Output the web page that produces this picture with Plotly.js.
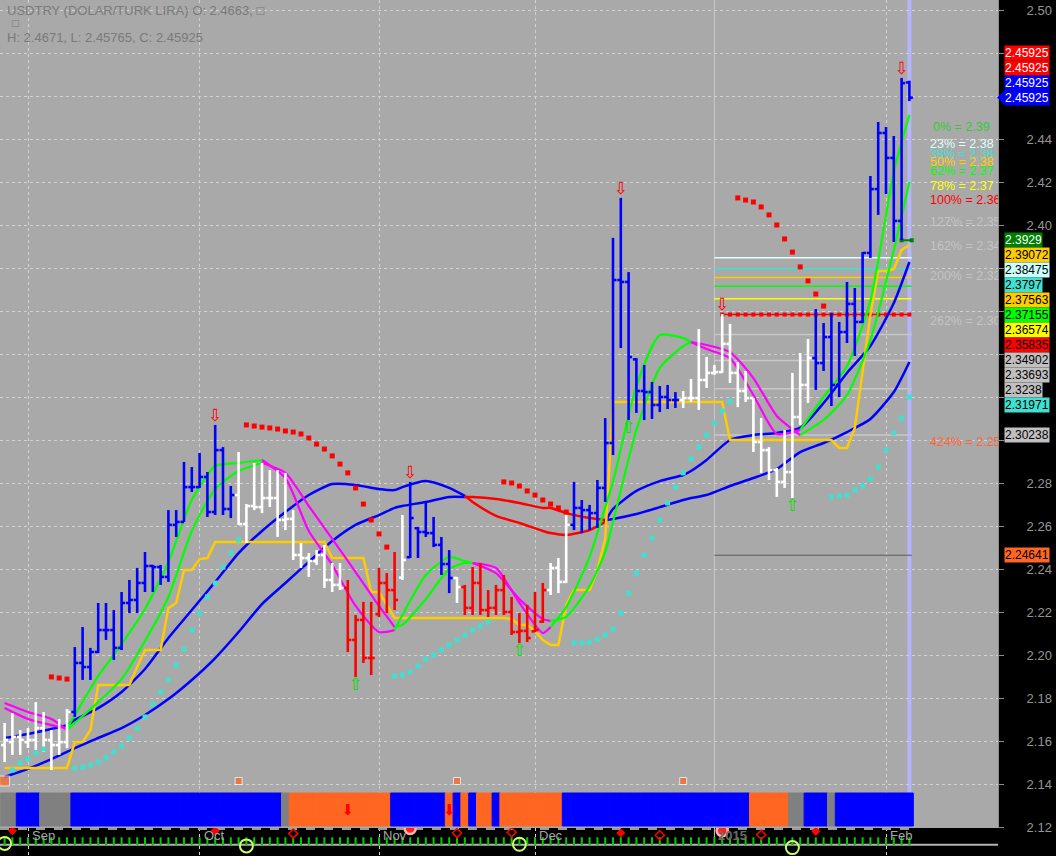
<!DOCTYPE html>
<html><head><meta charset="utf-8">
<script src="https://cdn.plot.ly/plotly-3.0.1.min.js"></script>
<style>html,body{margin:0;padding:0;background:#000;overflow:hidden}#chart{width:1056px;height:856px}</style>
</head><body><div id="chart"></div>
<script>
// ---------------- DATA ----------------
const open = [2.1581,2.1595,2.1619,2.1595,2.1605,2.1660,2.1605,2.1581,2.1595,2.1735,
2.1963,2.1944,2.2014,2.2116,2.2116,2.2033,2.2242,2.2256,2.2335,2.2414,
2.2409,2.2363,2.2605,2.2619,2.2781,2.2781,2.2828,2.2665,2.2953,2.2679,
2.2744,2.2609,2.2693,2.2688,2.2730,2.2730,2.2628,2.2633,2.2465,2.2451,
2.2437,2.2465,2.2349,2.2326,2.2312,2.2070,2.2163,2.1986,2.2190,2.2335,
2.2302,2.2360,2.2455,2.2590,2.2572,2.2567,2.2512,2.2423,2.2358,2.2316,
2.2219,2.2335,2.2209,2.2219,2.2302,2.2200,2.2107,2.2112,2.2110,2.2155,
2.2302,2.2405,2.2340,2.2605,2.2684,2.2674,2.2660,2.2777,2.2986,2.3744,
2.3735,2.3375,2.3228,2.3223,2.3163,2.3200,2.3186,2.3186,2.3195,2.3195,
2.3279,2.3312,2.3316,2.3447,2.3312,2.3228,2.3195,2.2991,2.2953,2.2860,
2.2805,2.2851,2.3107,2.3256,2.3381,2.3358,2.3479,2.3256,2.3502,2.3633,
2.3549,2.3870,2.4167,2.4428,2.4312,2.4019,2.4663];
const high = [2.1684,2.1730,2.1651,2.1660,2.1781,2.1735,2.1651,2.1702,2.1749,2.2037,
2.2130,2.2033,2.2242,2.2242,2.2209,2.2293,2.2349,2.2405,2.2479,2.2419,
2.2419,2.2674,2.2674,2.2898,2.2874,2.2940,2.2851,2.3070,2.2967,2.2786,
2.2944,2.2702,2.2893,2.2893,2.2860,2.2860,2.2847,2.2674,2.2521,2.2474,
2.2488,2.2512,2.2428,2.2428,2.2349,2.2186,2.2247,2.2247,2.2405,2.2381,
2.2479,2.2651,2.2805,2.2595,2.2712,2.2642,2.2549,2.2488,2.2363,2.2326,
2.2409,2.2428,2.2302,2.2326,2.2372,2.2270,2.2195,2.2233,2.2293,2.2335,
2.2428,2.2451,2.2651,2.2805,2.2721,2.2698,2.2814,2.3102,2.3940,2.4126,
2.3781,2.3381,2.3349,2.3270,2.3251,2.3256,2.3223,2.3228,2.3284,2.3516,
2.3386,2.3349,2.3586,2.3540,2.3363,2.3321,2.3195,2.3102,2.2967,2.2870,
2.3047,2.3312,2.3405,2.3470,2.3609,2.3544,2.3591,2.3549,2.3735,2.3707,
2.3874,2.4228,2.4479,2.4456,2.4414,2.4684,2.4671];
const low = [2.1502,2.1535,2.1535,2.1567,2.1558,2.1549,2.1465,2.1535,2.1567,2.1712,
2.1884,2.1884,2.2009,2.2070,2.1977,2.2023,2.2195,2.2195,2.2293,2.2293,
2.2326,2.2340,2.2549,2.2619,2.2758,2.2777,2.2642,2.2651,2.2651,2.2637,
2.2605,2.2521,2.2674,2.2660,2.2688,2.2549,2.2581,2.2442,2.2405,2.2363,
2.2419,2.2312,2.2293,2.2302,2.2014,2.1898,2.1963,2.1907,2.2177,2.2195,
2.2209,2.2349,2.2451,2.2451,2.2549,2.2502,2.2372,2.2288,2.2242,2.2186,
2.2186,2.2186,2.2177,2.2186,2.2186,2.2093,2.2056,2.2060,2.2107,2.2149,
2.2279,2.2288,2.2335,2.2581,2.2567,2.2581,2.2591,2.2712,2.2930,2.3428,
2.3093,2.3126,2.3093,2.3098,2.3130,2.3144,2.3149,2.3149,2.3177,2.3140,
2.3242,2.3302,2.3312,2.3265,2.3153,2.3177,2.2944,2.2847,2.2814,2.2735,
2.2777,2.2730,2.3070,2.3172,2.3233,2.3321,2.3158,2.3200,2.3451,2.3391,
2.3544,2.3847,2.4047,2.4144,2.3921,2.3930,2.45765];
const close = [2.1605,2.1619,2.1605,2.1605,2.1660,2.1605,2.1581,2.1595,2.1735,2.1963,
2.1944,2.2014,2.2116,2.2116,2.2033,2.2242,2.2256,2.2335,2.2414,2.2409,
2.2363,2.2605,2.2619,2.2781,2.2781,2.2828,2.2665,2.2953,2.2679,2.2744,
2.2609,2.2693,2.2688,2.2730,2.2730,2.2628,2.2633,2.2465,2.2451,2.2437,
2.2465,2.2349,2.2326,2.2312,2.2070,2.2163,2.1986,2.1986,2.2335,2.2302,
2.2256,2.2442,2.2637,2.2572,2.2567,2.2512,2.2423,2.2358,2.2316,2.2219,
2.2335,2.2209,2.2219,2.2302,2.2200,2.2107,2.2112,2.2079,2.2116,2.2302,
2.2405,2.2340,2.2605,2.2684,2.2674,2.2660,2.2777,2.2986,2.3744,2.3735,
2.3386,2.3228,2.3223,2.3163,2.3200,2.3186,2.3186,2.3195,2.3195,2.3279,
2.3312,2.3316,2.3447,2.3312,2.3228,2.3195,2.2991,2.2953,2.2860,2.2805,
2.2851,2.3107,2.3256,2.3381,2.3358,2.3479,2.3256,2.3502,2.3633,2.3549,
2.3870,2.4167,2.4428,2.4312,2.4019,2.4660,2.45925];

// bar colour regime (run-length: code, number of bars)
const trendRuns = [['W',9],['B',21],['W',14],['R',7],['W',1],['B',6],['W',1],['R',11],['W',3],['B',14],['W',17],['B',13]];
// bottom band regime (run-length)
const bandRuns = [['G',2],['B',3],['G',4],['B',27],['G',1],['O',13],['B',7],['O',1],['B',1],['O',1],['B',1],['O',2],['B',1],['O',8],['B',24],['O',5],['G',2],['B',3],['G',1],['B',10]];

// month ticks (bar index of first trading day)
const monthTickIdx = [3, 25, 48, 68, 91, 113];
const monthTickText = ['Sep', 'Oct', 'Nov', 'Dec', '2015', 'Feb'];

// moving averages sampled at these bar indices
const maIdx = [0,3,6,8,9,12,15,18,21,24,27,30,33,36,39,42,45,48,50,51,54,57,59,60,63,66,69,70,72,75,77,78,81,84,87,88,90,93,96,99,102,105,108,111,114,116];
const maBlueFast = [2.1614,2.1633,2.1656,2.1674,2.1698,2.1753,2.1828,2.1935,2.2079,2.2209,
2.2340,2.2474,2.2577,2.2665,2.2744,2.2795,2.2791,2.2772,2.2767,2.2781,
2.2809,2.2777,2.2740,2.2712,2.2647,2.2614,2.2577,2.2567,2.2558,2.2581,
2.2619,2.2679,2.2763,2.2809,2.2837,2.2856,2.2907,2.3000,2.3023,2.3033,
2.3056,2.3172,2.3312,2.3437,2.3637,2.3828];
const maBlueSlow = [2.1433,2.1470,2.1516,2.1549,2.1567,2.1614,2.1660,2.1721,2.1795,2.1884,
2.1986,2.2107,2.2237,2.2335,2.2433,2.2530,2.2605,2.2651,2.2684,2.2693,
2.2712,2.2735,2.2735,2.2735,2.2726,2.2707,2.2684,2.2684,2.2660,2.2637,
2.2628,2.2633,2.2656,2.2688,2.2721,2.2730,2.2744,2.2786,2.2823,2.2865,
2.2944,2.2986,2.3037,2.3098,2.3223,2.3363];
const maGreenFast = [2.1753,2.1702,2.1674,2.1660,2.1721,2.1902,2.2051,2.2214,2.2433,2.2721,
2.2879,2.2893,2.2907,2.2823,2.2577,2.2419,2.2228,2.2107,2.2116,2.2186,
2.2372,2.2456,2.2437,2.2428,2.2405,2.2242,2.2102,2.2130,2.2223,2.2456,
2.2688,2.2805,2.3251,2.3488,2.3474,2.3456,2.3423,2.3381,2.3209,2.3028,
2.3047,2.3200,2.3344,2.3647,2.4247,2.4512];
const maGreenSlow = [2.1777,2.1735,2.1702,2.1651,2.1684,2.1781,2.1888,2.2065,2.2270,2.2577,
2.2772,2.2856,2.2893,2.2847,2.2693,2.2540,2.2386,2.2228,2.2130,2.2140,
2.2260,2.2400,2.2428,2.2428,2.2381,2.2260,2.2167,2.2158,2.2177,2.2321,
2.2479,2.2619,2.3047,2.3335,2.3437,2.3456,2.3442,2.3409,2.3288,2.3112,
2.3023,2.3093,2.3209,2.3465,2.3884,2.4200];
// bar-index ranges where the MA pairs change colour
const blueDownRanges = [[59, 77]];
const greenDownRanges = [[0, 8], [33, 50], [60, 70], [88, 102]];

// stepped gold band (one value per bar)
const goldLine = [2.1474,2.1474,2.1474,2.1474,2.1474,2.1474,2.1474,2.1474,2.1474,
2.1595,2.1595,2.1651,2.1860,2.1860,2.1860,2.1860,2.1860,2.1944,2.2023,2.2023,2.2023,2.2219,2.2242,2.2395,2.2395,2.2446,2.2451,
2.2526,2.2526,2.2526,2.2526,2.2526,2.2526,2.2526,2.2526,2.2526,2.2526,2.2526,2.2526,2.2526,2.2526,2.2526,
2.2451,2.2451,2.2451,2.2451,2.2451,
2.2293,2.2293,2.2233,
2.2172,2.2172,2.2172,2.2172,2.2172,2.2172,2.2172,2.2172,2.2172,2.2172,2.2172,2.2172,2.2172,2.2172,2.2172,
2.2167,2.2140,2.2140,2.2112,2.2070,2.2047,2.2047,2.2233,2.2302,2.2302,2.2302,2.2395,2.2540,2.3177,
2.3177,2.3177,2.3177,2.3177,2.3177,2.3177,2.3177,2.3177,2.3177,2.3177,2.3177,2.3177,2.3177,2.3177,
2.3000,2.3000,2.3000,2.3000,2.3000,2.3000,2.3000,2.3000,2.3000,2.3000,2.3000,2.3000,2.3000,2.3000,
2.2963,2.2963,2.3056,2.3326,2.3581,2.3786,2.3786,2.3795,2.3884,2.3907];

// parabolic SAR dots
const sarLowIdx = [1,2,3,4,5,9,10,11,12,13,14,15,16,17,18,19,20,21,22,23,24,25,26,27,28,29,30,
50,51,52,53,54,55,56,57,58,59,60,61,62,
73,74,75,76,77,78,79,80,81,82,83,84,85,86,87,88,89,90,91,92,93,
106,107,108,109,110,111,112,113,114,115,116];
const sarLowVal = [2.1465,2.1498,2.1516,2.1544,2.1563,
2.1474,2.1479,2.1488,2.1502,2.1521,2.1549,2.1577,2.1614,2.1660,2.1712,2.1772,2.1828,2.1884,2.1953,2.2028,2.2116,2.2195,2.2270,2.2335,2.2409,2.2474,2.2535,
2.1902,2.1907,2.1921,2.1949,2.1981,2.2000,2.2023,2.2047,2.2070,2.2093,2.2116,2.2135,2.2153,
2.2056,2.2056,2.2060,2.2074,2.2093,2.2121,2.2195,2.2288,2.2381,2.2465,2.2544,2.2628,2.2707,2.2781,2.2847,2.2912,2.2967,2.3023,2.3079,2.3135,2.3181,
2.2735,2.2740,2.2744,2.2767,2.2786,2.2819,2.2874,2.2953,2.3033,2.3102,2.3200];
const sarHighIdx = [6,7,8,31,32,33,34,35,36,37,38,39,40,41,42,43,44,45,46,47,48,49,
64,65,66,67,68,69,70,71,72,94,95,96,97,98,99,100,101,102,103,104,105];
const sarHighVal = [2.1898,2.1893,2.1888,
2.3070,2.3065,2.3060,2.3056,2.3051,2.3042,2.3037,2.3028,2.3009,2.2981,2.2958,2.2926,2.2888,2.2847,2.2777,2.2702,2.2628,2.2563,2.2502,
2.2805,2.2800,2.2786,2.2763,2.2744,2.2721,2.2702,2.2684,2.2665,
2.4126,2.4116,2.4107,2.4084,2.4047,2.4000,2.3935,2.3874,2.3805,2.3740,2.3679,2.3623];

// signals
const sellIdx = [27, 52, 79, 92, 115];
const buyIdx = [45, 66, 80, 101];
const alertIdx = [0, 30, 58, 87];
const bandArrowIdx = [44, 57];

// fibonacci levels
const fibPct = ['0%','23%','38%','50%','62%','78%','100%','127%','162%','200%','262%','424%'];
const fibLevel = [2.3929,2.38475,2.3797,2.37563,2.37155,2.36574,2.35835,2.34902,2.33693,2.3238,2.30238,2.24641];
const fibStartIdx = 91;

// right-axis value tags
const tagVals = [2.45925,2.45925,2.45925,2.45925,2.3929,2.39072,2.38475,2.3797,2.37563,2.37155,2.36574,2.35835,2.34902,2.33693,2.3238,2.31971,2.30238,2.24641];

// y-axis ticks; labels hidden behind value tags in the reference are left blank
const yTickVals = [2.12,2.14,2.16,2.18,2.20,2.22,2.24,2.26,2.28,2.30,2.32,2.34,2.36,2.38,2.40,2.42,2.44,2.46,2.48,2.50];
const yTickHidden = [2.30,2.32,2.34,2.36,2.38,2.46,2.48];

// header
const headerLine1 = 'USDTRY (DOLAR/TURK LIRA) O: 2.4663, \u25A1';
const headerLine3 = 'H: 2.4671, L: 2.45765, C: 2.45925';

// ---------------- STYLE / LAYOUT ----------------
const FONT = 'Liberation Sans, Arial, sans-serif';
const W = 1056, H = 856, PLOT_W = 998;
function pxToPrice(py){ return 2.50 - (py - 10) / 2150; }
function priceToPx(p){ return 10 + (2.50 - p) * 2150; }
function pxToIdx(px){ return (px - 4.6) / 7.8; }
const Y_TOP = pxToPrice(0), Y_BOT = pxToPrice(828);
const X_MIN = pxToIdx(0), X_MAX = pxToIdx(PLOT_W);
const STRIP = 28 / H;

function expandRuns(runs){ const out = []; runs.forEach(([c, n]) => { for (let k = 0; k < n; k++) out.push(c); }); return out; }
const barIdx = close.map((_, i) => i);
const trend = expandRuns(trendRuns);
const band = expandRuns(bandRuns);
const trendColor = {W: '#ffffff', B: '#0000ff', R: '#ff0000'};
const bandColor = {B: '#0000ff', O: '#ff6622', G: '#808080'};

const traces = [];

// bottom regime band
const BAND_BASE = pxToPrice(826), BAND_TOP = pxToPrice(793);
traces.push({type: 'bar', x: barIdx, y: barIdx.map(() => BAND_TOP - BAND_BASE), base: BAND_BASE, width: 1,
  marker: {color: band.map(c => bandColor[c]), line: {width: 1, color: band.map(c => bandColor[c])}}, hoverinfo: 'skip'});

// fibonacci lines
const fibLineColor = ['#008000','#e0ffff','#40e0d0','#ffcc00','#00ff00','#ffff00','#ff0000','#c8c8c8','#c8c8c8','#c8c8c8','#c8c8c8','#5a5a5a'];
fibLevel.forEach((lv, k) => {
  if (k === 0) {
    traces.push({type: 'scatter', mode: 'lines+markers', x: [115, 116.3], y: [lv, lv],
      line: {color: fibLineColor[k], width: 2}, marker: {symbol: 'square', size: 4, color: fibLineColor[k]}, hoverinfo: 'skip'});
  } else if (k === 6) {
    const xs = barIdx.filter(i => i >= fibStartIdx + 1);
    traces.push({type: 'scatter', mode: 'lines+markers', x: xs, y: xs.map(() => lv),
      line: {color: fibLineColor[k], width: 1.5}, marker: {symbol: 'square', size: 4, color: fibLineColor[k]}, hoverinfo: 'skip'});
  } else {
    traces.push({type: 'scatter', mode: 'lines', x: [fibStartIdx, 116.3], y: [lv, lv],
      line: {color: fibLineColor[k], width: k === 11 ? 1 : 1.5}, hoverinfo: 'skip'});
  }
});

// moving averages with colour changes
function colorRuns(idx, vals, ranges, baseCol, altCol, width){
  const segs = []; let cursor = idx[0]; const end = idx[idx.length - 1];
  ranges.forEach(([a, b]) => { if (a > cursor) segs.push([cursor, a, baseCol]); segs.push([a, b, altCol]); cursor = b; });
  if (cursor < end) segs.push([cursor, end, baseCol]);
  return segs.map(([a, b, col]) => {
    const xs = [], ys = [];
    idx.forEach((v, k) => { if (v >= a && v <= b) { xs.push(v); ys.push(vals[k]); } });
    return {type: 'scatter', mode: 'lines', x: xs, y: ys, line: {color: col, width: width, shape: 'spline', smoothing: 0.6}, hoverinfo: 'skip'};
  });
}
traces.push(...colorRuns(maIdx, maBlueSlow, blueDownRanges, '#0000ff', '#ff0000', 2.5));
traces.push(...colorRuns(maIdx, maBlueFast, blueDownRanges, '#0000ff', '#ff0000', 2.5));
traces.push({type: 'scatter', mode: 'lines', x: barIdx, y: goldLine, line: {color: '#ffcc00', width: 2.5}, hoverinfo: 'skip'});
traces.push(...colorRuns(maIdx, maGreenSlow, greenDownRanges, '#00ff00', '#ff00ff', 2.2));
traces.push(...colorRuns(maIdx, maGreenFast, greenDownRanges, '#00ff00', '#ff00ff', 2.2));

// OHLC bars drawn through the axis scales
['W', 'B', 'R'].forEach(code => {
  const xs = [], ys = [];
  barIdx.forEach(i => {
    if (trend[i] !== code) return;
    xs.push(i, i, null, i - 0.45, i, null, i, i + 0.45, null);
    ys.push(low[i], high[i], null, open[i], open[i], null, close[i], close[i], null);
  });
  traces.push({type: 'scatter', mode: 'lines', x: xs, y: ys, connectgaps: false,
    line: {color: trendColor[code], width: 2.6}, hoverinfo: 'skip'});
});

// SAR dots
traces.push({type: 'scatter', mode: 'markers', x: sarLowIdx, y: sarLowVal,
  marker: {symbol: 'square', size: 5, color: '#40e0d0'}, hoverinfo: 'skip'});
traces.push({type: 'scatter', mode: 'markers', x: sarHighIdx, y: sarHighVal,
  marker: {symbol: 'square', size: 5, color: '#ff0000'}, hoverinfo: 'skip'});

// alert squares above band
traces.push({type: 'scatter', mode: 'markers', x: alertIdx, y: alertIdx.map(() => pxToPrice(781)),
  marker: {symbol: 'square', size: alertIdx.map((v, k) => k === 0 ? 10 : 7), color: '#ff6622'}, hoverinfo: 'skip'});

// band arrows
traces.push({type: 'scatter', mode: 'text', x: bandArrowIdx, y: bandArrowIdx.map(() => pxToPrice(811)),
  text: bandArrowIdx.map(() => '\u2B07'), textposition: 'middle center',
  textfont: {color: '#ff0000', size: 15, family: 'DejaVu Sans'}, hoverinfo: 'skip'});

// sell / buy arrows
traces.push({type: 'scatter', mode: 'text', x: sellIdx, y: sellIdx.map(i => high[i]),
  text: sellIdx.map(() => '\u21E9'), textposition: 'top center', cliponaxis: false,
  textfont: {color: '#ff0000', size: 17, family: 'DejaVu Sans'}, hoverinfo: 'skip'});
traces.push({type: 'scatter', mode: 'text', x: buyIdx, y: buyIdx.map(i => low[i]),
  text: buyIdx.map(() => '\u21E7'), textposition: 'bottom center', cliponaxis: false,
  textfont: {color: '#00e000', size: 17, family: 'DejaVu Sans'}, hoverinfo: 'skip'});

// fibonacci text labels (clipped at plot edge)
const fibTextPx = [128, 145, 155, 163, 172, 187, 201, 223, 247, 277, 322, 443];
const fibTextColor = ['#33cc33','#e0ffff','#40e0d0','#ffcc00','#00ff00','#ffff00','#ff0000','#c4c4c4','#c4c4c4','#c4c4c4','#c4c4c4','#ff6633'];
traces.push({type: 'scatter', mode: 'text', cliponaxis: true,
  x: fibPct.map((p, k) => pxToIdx(k === 0 ? 933 : 930)),
  y: fibTextPx.map(pxToPrice),
  text: fibPct.map((p, k) => p + ' = ' + fibLevel[k].toFixed(2)),
  textposition: 'middle right',
  textfont: {color: fibTextColor, size: 12.5, family: FONT}, hoverinfo: 'skip'});

// ---- bottom strip (y2) ----
traces.push({type: 'scatter', mode: 'lines', xaxis: 'x', yaxis: 'y2', x: [X_MIN, 116.5], y: [0.96, 0.96],
  line: {color: '#9a9a9a', width: 2, dash: 'dash'}, hoverinfo: 'skip'});
traces.push({type: 'scatter', mode: 'lines', xaxis: 'x', yaxis: 'y2', x: [X_MIN, X_MAX], y: [0.4, 0.4],
  line: {color: '#b4b4b4', width: 2}, hoverinfo: 'skip'});
traces.push({type: 'scatter', mode: 'markers', xaxis: 'x', yaxis: 'y2', x: barIdx, y: barIdx.map(() => 0.52),
  marker: {symbol: 'line-ns-open', size: 6, color: '#00cc00', line: {width: 2}}, hoverinfo: 'skip'});
traces.push({type: 'scatter', mode: 'markers', xaxis: 'x', yaxis: 'y2', x: [1, 27, 79, 104], y: [0.9, 0.9, 0.82, 0.88],
  marker: {symbol: 'diamond', size: 7, color: '#ff0000'}, hoverinfo: 'skip'});
traces.push({type: 'scatter', mode: 'markers', xaxis: 'x', yaxis: 'y2', x: [37, 58, 65, 84, 97], y: [0.8, 0.82, 0.85, 0.74, 0.76],
  marker: {symbol: 'diamond-open', size: 7, color: '#ff0000', line: {width: 1.5}}, hoverinfo: 'skip'});
traces.push({type: 'scatter', mode: 'markers', xaxis: 'x', yaxis: 'y2', x: [0, 31, 66, 101], y: [0.45, 0.36, 0.42, 0.3],
  marker: {symbol: 'circle-open', size: 13, color: '#ccff66', line: {width: 2}}, hoverinfo: 'skip'});
traces.push({type: 'scatter', mode: 'markers', xaxis: 'x', yaxis: 'y2', x: [52, 92], y: [0.98, 0.9],
  marker: {symbol: 'circle', size: 11, color: '#ff2020', line: {color: '#ffb4b4', width: 2.5}}, hoverinfo: 'skip'});

// ---- annotations ----
const annotations = [];
annotations.push({xref: 'paper', yref: 'paper', x: 5 / PLOT_W, y: 1 - 10 / H, xanchor: 'left', yanchor: 'middle',
  text: headerLine1, showarrow: false, font: {color: '#7a7a7a', size: 13, family: FONT}});
annotations.push({xref: 'paper', yref: 'paper', x: 10 / PLOT_W, y: 1 - 23 / H, xanchor: 'left', yanchor: 'middle',
  text: '\u25A1', showarrow: false, font: {color: '#7a7a7a', size: 12, family: FONT}});
annotations.push({xref: 'paper', yref: 'paper', x: 5 / PLOT_W, y: 1 - 38 / H, xanchor: 'left', yanchor: 'middle',
  text: headerLine3, showarrow: false, font: {color: '#7a7a7a', size: 13, family: FONT}});

// month labels in the strip
monthTickIdx.forEach((ix, k) => {
  const isYear = monthTickText[k] === '2015';
  annotations.push({xref: 'x', yref: 'y2', x: ix, y: 0.74, xanchor: 'left', yanchor: 'middle', xshift: 2,
    text: isYear ? '<b>' + monthTickText[k] + '</b>' : monthTickText[k], showarrow: false,
    font: {color: isYear ? '#6a6a6a' : '#a8a8a8', size: 13, family: FONT}});
});

// right-axis tags
const tagBg = ['#ff0000','#ff0000','#0000ff','#0000ff','#008000','#ffcc00','#ccffff','#40e0d0','#ffcc00','#00ff00','#ffff00','#ff0000','#c0c0c0','#c0c0c0','#c0c0c0','#40e0d0','#c0c0c0','#ff6622'];
const tagFg = ['#ffffff','#ffffff','#ffffff','#ffffff','#ffffff','#000000','#000000','#000000','#000000','#000000','#000000','#000000','#000000','#000000','#000000','#000000','#000000','#000000'];
const TAG_STEP = 15;
const tagPx = [];
for (let k = 3; k >= 0; k--) tagPx[k] = priceToPx(tagVals[k]) - (3 - k) * TAG_STEP;
let lastPx = -1e9;
for (let k = 4; k < tagVals.length; k++) {
  let py = priceToPx(tagVals[k]);
  if (py < lastPx + TAG_STEP) py = lastPx + TAG_STEP;
  tagPx[k] = py; lastPx = py;
}
tagVals.forEach((v, k) => {
  annotations.push({xref: 'paper', yref: 'y', x: 1004 / PLOT_W, y: pxToPrice(tagPx[k]), xanchor: 'left', yanchor: 'middle',
    text: String(v), showarrow: false, bgcolor: tagBg[k], borderpad: 0, height: 14,
    font: {color: tagFg[k], size: 12, family: FONT}});
});

// shapes
const shapes = [];
shapes.push({type: 'rect', xref: 'paper', yref: 'paper', x0: 0, x1: 1, y0: 0, y1: STRIP, fillcolor: '#000000', line: {width: 0}, layer: 'below'});
shapes.push({type: 'line', xref: 'x', yref: 'paper', x0: 116, x1: 116, y0: STRIP + 2 / H, y1: 1, line: {color: '#b4b4ff', width: 4}, layer: 'below'});
shapes.push({type: 'line', xref: 'x', yref: 'paper', x0: monthTickIdx[4], x1: monthTickIdx[4], y0: 0.012, y1: 1, line: {color: '#c8c8c8', width: 1}, layer: 'below'});
const tp = tagPx[3];
shapes.push({type: 'path', xref: 'paper', yref: 'y',
  path: 'M ' + (997 / PLOT_W) + ',' + pxToPrice(tp) + ' L ' + (1004.5 / PLOT_W) + ',' + pxToPrice(tp - 7) + ' L ' + (1004.5 / PLOT_W) + ',' + pxToPrice(tp + 7) + ' Z',
  fillcolor: '#0000ff', line: {width: 0}});

const layout = {
  width: W, height: H,
  margin: {l: 0, r: W - PLOT_W, t: 0, b: 0, pad: 0},
  paper_bgcolor: '#000000', plot_bgcolor: '#a9a9a9',
  showlegend: false, hovermode: false, barmode: 'overlay',
  font: {family: FONT},
  xaxis: {range: [X_MIN, X_MAX], showticklabels: false, ticks: '', tickvals: [3, 25, 48, 68, 113],
    showgrid: true, gridcolor: '#d2d2d2', griddash: 'dot', gridwidth: 1, zeroline: false, showline: false,
    rangeslider: {visible: false}, fixedrange: true},
  yaxis: {domain: [STRIP, 1], range: [Y_BOT, Y_TOP], side: 'right', tickvals: yTickVals,
    ticktext: yTickVals.map(v => yTickHidden.some(h => Math.abs(h - v) < 1e-9) ? '' : v.toFixed(2)),
    ticks: 'outside', ticklen: 5, tickcolor: '#8c8c8c',
    tickfont: {color: '#959595', size: 13, family: FONT}, ticklabelstandoff: 20,
    showgrid: true, gridcolor: '#d2d2d2', griddash: 'dot', gridwidth: 1, zeroline: false,
    showline: true, linecolor: '#8c8c8c', linewidth: 1, fixedrange: true},
  yaxis2: {domain: [0, STRIP], range: [0, 1], visible: false, anchor: 'x', fixedrange: true},
  annotations: annotations,
  shapes: shapes
};

Plotly.newPlot('chart', traces, layout, {staticPlot: true, displayModeBar: false});
</script></body></html>
